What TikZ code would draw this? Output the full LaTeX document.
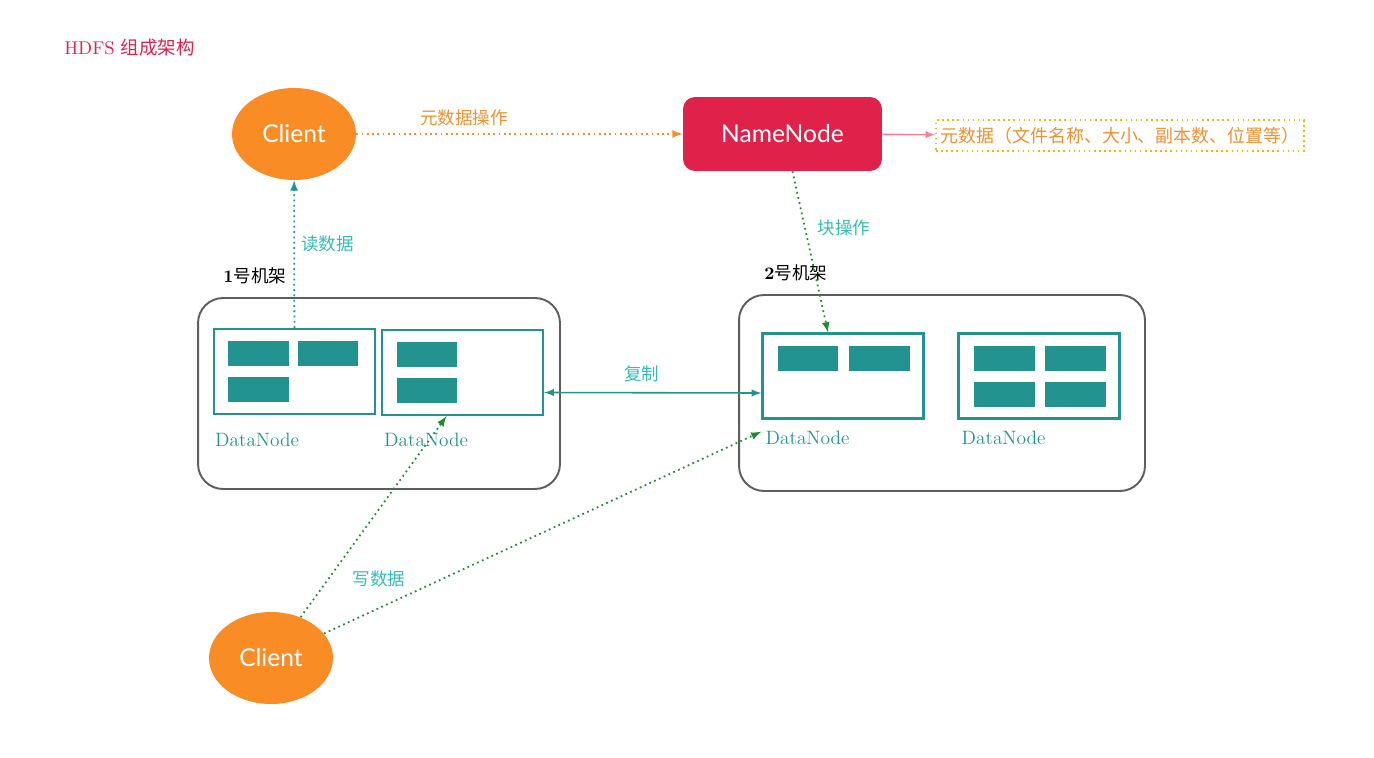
\documentclass[tikz,border=0pt]{standalone}
\usepackage{fontspec}
\newfontfamily\cjk{Noto Sans CJK SC}
\newfontfamily\lato{Lato}
\usetikzlibrary{shapes.geometric, arrows, calc, positioning}
\definecolor{hdfsred}{HTML}{E0214A}
\definecolor{clientorange}{HTML}{FA8C26}
\definecolor{dnteal}{HTML}{22938F}
\definecolor{readteal}{HTML}{35BDB4}
\definecolor{opgreen}{HTML}{1E8C32}
\definecolor{labelorange}{HTML}{F0902E}
\definecolor{metaborder}{HTML}{F7B500}
\definecolor{metapink}{HTML}{F7819A}
\definecolor{rackgray}{HTML}{5E5E5E}
\tikzstyle{client} = [ellipse, minimum width=2.48cm, minimum height=1.84cm, inner sep=0, fill=clientorange, text=white, font=\lato\fontsize{14}{16}\selectfont]
\tikzstyle{namenode} = [rectangle, rounded corners=0.24cm, minimum width=3.98cm, minimum height=1.48cm, fill=hdfsred, text=white, font=\lato\fontsize{14}{16}\selectfont]
\tikzstyle{meta} = [rectangle, minimum width=7.36cm, minimum height=0.62cm, inner sep=0, draw=metaborder, dotted, line width=0.9pt, text=labelorange, font=\cjk\fontsize{10.2}{12}\selectfont]
\tikzstyle{rack} = [rectangle, rounded corners=0.5cm, minimum width=7.24cm, minimum height=3.82cm, draw=rackgray, line width=1.1pt]
\tikzstyle{datanode} = [rectangle, minimum width=3.22cm, minimum height=1.7cm, draw=dnteal, line width=1.3pt]
\tikzstyle{block} = [rectangle, minimum width=1.22cm, minimum height=0.5cm, inner sep=0, fill=dnteal]
\tikzstyle{dnlabel} = [inner sep=0, text=dnteal, font=\fontsize{11}{13}\selectfont]
\tikzstyle{racklabel} = [anchor=west, inner sep=0, font=\fontsize{10}{12}\selectfont]
\tikzstyle{oplabel} = [inner sep=0, text=readteal, font=\cjk\fontsize{10}{12}\selectfont]
\tikzstyle{dotarrow} = [dotted, line width=1pt, ->, >=latex]
\tikzstyle{arrow} = [line width=0.9pt, ->, >=latex]

\begin{document}
\begin{tikzpicture}[x=0.02cm, y=-0.02cm]
	\useasboundingbox (0,0) rectangle (1374,758);
	\node (title) [anchor=west, inner sep=0, text=hdfsred, font=\fontsize{10.5}{12}\selectfont] at (64,48) {HDFS {\cjk 组成架构}};
	% clients and namenode
	\node (client1) [client] at (294,134) {Client};
	\node (client2) [client] at (271,658) {Client};
	\node (namenode) [namenode] at (782.5,134) {NameNode};
	\node (meta) [meta] at (1120,135.5) {元数据（文件名称、大小、副本数、位置等）};
	% racks
	\node (rack1) [rack] at (379,393.5) {};
	\node (rack2) [rack, minimum width=8.12cm, minimum height=3.92cm] at (942,393) {};
	\node (rack1lbl) [racklabel] at (223,276) {\textbf{1}{\cjk 号机架}};
	\node (rack2lbl) [racklabel] at (764,273) {\textbf{2}{\cjk 号机架}};
	% datanodes
	\node (dn1a) [datanode] at (294.5,371.5) {};
	\node (dn1b) [datanode] at (462.5,372.5) {};
	\node (dn2a) [datanode] at (843,376) {};
	\node (dn2b) [datanode] at (1039,376) {};
	\node (dn1albl) [dnlabel, below right=0.36cm and 0.04cm of dn1a.south west] {DataNode};
	\node (dn1blbl) [dnlabel, below right=0.34cm and 0.06cm of dn1b.south west] {DataNode};
	\node (dn2albl) [dnlabel, below right=0.22cm and 0.08cm of dn2a.south west] {DataNode};
	\node (dn2blbl) [dnlabel, below right=0.22cm and 0.08cm of dn2b.south west] {DataNode};
	% blocks
	\foreach \bx/\by [count=\i] in {258.5/353.5, 328/353.5, 258.5/389.5, 427/354.5, 427/390.5, 808/358, 879/358, 1004/358, 1075/358, 1004/394.5, 1075/394.5}
		\node (blk\i) [block] at (\bx,\by) {};
	% connectors
	\draw [dotarrow, draw=labelorange] (client1) -- node[oplabel, text=labelorange, above=0.14cm, pos=0.33] {元数据操作} (namenode);
	\draw [arrow, draw=metapink] (namenode) -- (meta);
	\draw [dotarrow, draw=dnteal] (dn1a) -- node[oplabel, right=0.12cm, pos=0.57] {读数据} (client1);
	\draw [dotarrow, draw=opgreen] ($(namenode.south)+(10,0)$) -- node[oplabel, right=0.24cm, pos=0.35] {块操作} ($(dn2a.north)+(-15,0)$);
	\draw [arrow, <->, draw=dnteal] ($(dn1b.east)+(0,20)$) -- node[oplabel, above=0.2cm, pos=0.45] {复制} ($(dn2a.west)+(0,17)$);
	\draw [dotarrow, draw=opgreen] (client2) -- ($(dn1b.south)+(-16,0)$);
	\draw [dotarrow, draw=opgreen] (client2) -- ($(dn2a.south west)+(0,12)$);
	\node (writelbl) [oplabel] at (379,579) {写数据};
\end{tikzpicture}
\end{document}
